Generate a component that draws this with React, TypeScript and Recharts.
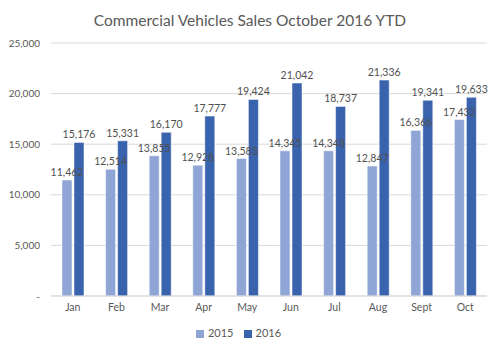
import React from 'react';
import { BarChart, Bar, XAxis, YAxis, CartesianGrid, Legend, LabelList } from 'recharts';

const months = ['Jan', 'Feb', 'Mar', 'Apr', 'May', 'Jun', 'Jul', 'Aug', 'Sept', 'Oct'];
const sales2015 = [11462, 12514, 13855, 12928, 13583, 14345, 14348, 12847, 16366, 17432];
const sales2016 = [15176, 15331, 16170, 17777, 19424, 21042, 18737, 21336, 19341, 19633];
const yTicks = [0, 5000, 10000, 15000, 20000, 25000];

const data = months.map((m, i) => ({ month: m, '2015': sales2015[i], '2016': sales2016[i] }));

const fmt = (v: number) => (v === 0 ? '-' : v.toLocaleString('en-US'));

const font = 'Lato, "Open Sans", sans-serif';

export default function App() {
  return (
    <div style={{ position: 'absolute', left: 0, top: 0, width: 500, height: 350, background: '#fff', fontFamily: font }}>
      <div style={{ position: 'absolute', top: 11, left: 0, width: 500, textAlign: 'center', fontSize: 15.5, color: '#595959' }}>
        Commercial Vehicles Sales October 2016 YTD
      </div>
      <BarChart
        width={500}
        height={350}
        data={data}
        margin={{ top: 43, right: 13, bottom: 2, left: 0 }}
        barSize={10}
        barGap={2}
      >
        <CartesianGrid vertical={false} stroke="#D9D9D9" />
        <XAxis
          dataKey="month"
          height={30}
          tickLine={false}
          axisLine={{ stroke: '#D9D9D9' }}
          tick={{ fontSize: 10.5, fill: '#595959', fontFamily: font }}
        />
        <YAxis
          width={51}
          domain={[0, 25000]}
          ticks={yTicks}
          tickFormatter={fmt}
          tickLine={false}
          axisLine={false}
          tickMargin={5}
          tick={{ fontSize: 10, fill: '#595959', fontFamily: font }}
        />
        <Legend
          verticalAlign="bottom"
          height={22}
          iconType="square"
          iconSize={8}
          wrapperStyle={{ fontSize: 11, color: '#595959', fontFamily: font }}
          formatter={(v: string) => <span style={{ color: '#595959' }}>{v}</span>}
        />
        <Bar dataKey="2015" fill="#8FA5D6" stroke="#fff" strokeWidth={0.5} isAnimationActive={false}>
          <LabelList dataKey="2015" position="top" offset={4} formatter={(v: any) => fmt(Number(v))} style={{ fontSize: 10.5, fill: '#505050', fontFamily: font }} />
        </Bar>
        <Bar dataKey="2016" fill="#3A63AE" stroke="#fff" strokeWidth={0.5} isAnimationActive={false}>
          <LabelList dataKey="2016" position="top" offset={4} formatter={(v: any) => fmt(Number(v))} style={{ fontSize: 10.5, fill: '#505050', fontFamily: font }} />
        </Bar>
      </BarChart>
    </div>
  );
}
